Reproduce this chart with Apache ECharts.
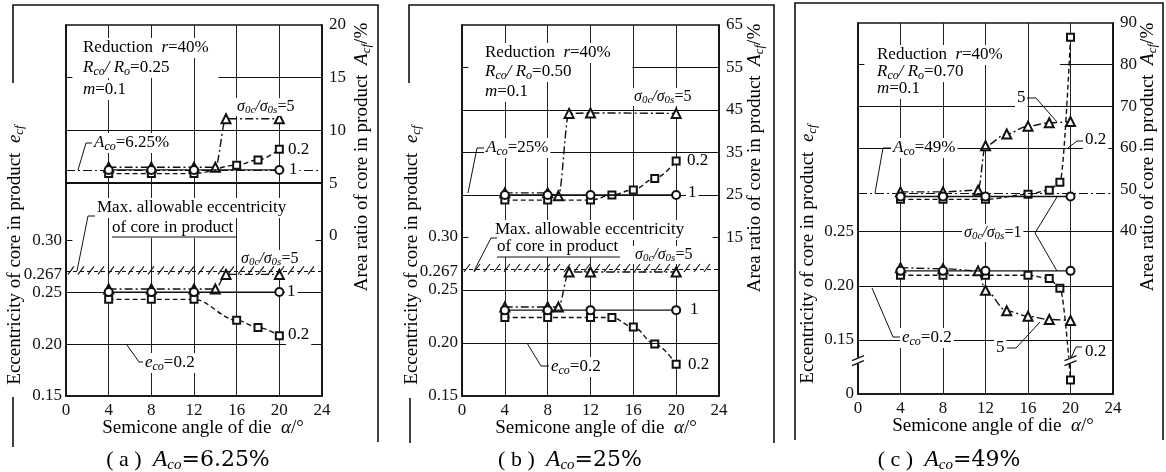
<!DOCTYPE html>
<html>
<head>
<meta charset="utf-8">
<script src="https://cdn.jsdelivr.net/npm/echarts@6/dist/echarts.min.js"></script>
<style>
html,body{margin:0;padding:0;background:#fff}
#chart{width:1166px;height:472px}
</style>
</head>
<body>
<div id="chart"></div>
<script>
// ---- Measured data: [semicone angle α (deg), value] ----
// (a) A_co = 6.25 %, R_co/R_o = 0.25
const areaA_s5  = [[4,6.5],[8,6.5],[12,6.5],[14,6.5],[15,11.1],[20,11.1]];
const areaA_s1  = [[4,6.25],[8,6.25],[12,6.25],[20,6.25]];
const areaA_s02 = [[4,5.9],[8,5.9],[12,5.9],[16,6.7],[18,7.2],[20,8.2]];
const eccA_s5   = [[4,0.253],[8,0.253],[12,0.253],[14,0.253],[15,0.267],[20,0.267]];
const eccA_s1   = [[4,0.25],[8,0.25],[12,0.25],[20,0.25]];
const eccA_s02  = [[4,0.243],[8,0.243],[12,0.243],[16,0.223],[18,0.216],[20,0.208]];
// (b) A_co = 25 %, R_co/R_o = 0.50
const areaB_s5  = [[4,25.5],[8,25.5],[9,24.8],[10,44.2],[12,44.3],[20,44.2]];
const areaB_s1  = [[4,25],[8,25],[12,25],[20,25]];
const areaB_s02 = [[4,23.8],[8,23.8],[12,23.8],[14,25],[16,26.2],[18,28.9],[20,33.0]];
const eccB_s5   = [[4,0.234],[8,0.234],[9,0.234],[10,0.267],[12,0.267],[20,0.267]];
const eccB_s1   = [[4,0.231],[8,0.231],[12,0.231],[20,0.231]];
const eccB_s02  = [[4,0.224],[8,0.224],[12,0.224],[14,0.224],[16,0.215],[18,0.199],[20,0.180]];
// (c) A_co = 49 %, R_co/R_o = 0.70
const areaC_s5  = [[4,49.4],[8,49.4],[11.3,49.8],[12,60.5],[14,63.3],[16,65.2],[18,66],[20,66.3]];
const areaC_s1  = [[4,48.3],[8,48.3],[12,48.3],[20,48.3]];
const areaC_s02 = [[4,47.6],[8,47.6],[12,47.6],[16,48.8],[18,49.8],[19,51.7],[20,86.6]];
const eccC_s5   = [[4,0.217],[8,0.216],[11.3,0.214],[12,0.196],[14,0.177],[16,0.172],[18,0.169],[20,0.168]];
const eccC_s1   = [[4,0.214],[8,0.214],[12,0.214],[20,0.214]];
const eccC_s02  = [[4,0.21],[8,0.21],[12,0.21],[16,0.21],[18,0.207],[19,0.198],[20,0.013]];

// ---- Axis tick values ----
const leftTicksA  = [0.15, 0.20, 0.25, 0.267, 0.30];
const rightTicksA = [0, 5, 10, 15, 20];
const leftTicksB  = [0.15, 0.20, 0.25, 0.267, 0.30];
const rightTicksB = [15, 25, 35, 45, 55, 65];
const leftTicksC  = [0, 0.15, 0.20, 0.25];
const rightTicksC = [40, 50, 60, 70, 80, 90];
// reference levels
const ecoLevel = 0.2;
const maxEcc = 0.267;
const acoA = 6.25, acoB = 25, acoC = 49;

const SERIF = '"Liberation Serif","DejaVu Serif",serif';
const WIDE = '"DejaVu Serif","Liberation Serif",serif';
const INK = '#111';
const chart = echarts.init(document.getElementById('chart'), null, {renderer: 'canvas'});

const rich = {
  n: {fontFamily: SERIF, fontSize: 17, color: INK, lineHeight: 20},
  i: {fontFamily: SERIF, fontSize: 17, fontStyle: 'italic', color: INK, lineHeight: 20},
  s: {fontFamily: SERIF, fontSize: 12, fontStyle: 'italic', color: INK, lineHeight: 12, verticalAlign: 'bottom'},
  xn: {fontFamily: SERIF, fontSize: 19, color: INK, lineHeight: 22},
  xi: {fontFamily: SERIF, fontSize: 19, fontStyle: 'italic', color: INK, lineHeight: 22},
  xs: {fontFamily: SERIF, fontSize: 13, fontStyle: 'italic', color: INK, lineHeight: 13, verticalAlign: 'bottom'},
  gn: {fontFamily: SERIF, fontSize: 16, color: INK, lineHeight: 18},
  gi: {fontFamily: SERIF, fontSize: 16, fontStyle: 'italic', color: INK, lineHeight: 18},
  gs: {fontFamily: SERIF, fontSize: 11, fontStyle: 'italic', color: INK, lineHeight: 11, verticalAlign: 'bottom'},
  cp: {fontFamily: SERIF, fontSize: 22, color: INK, lineHeight: 26},
  cn: {fontFamily: WIDE, fontSize: 22, color: INK, lineHeight: 26},
  ci: {fontFamily: SERIF, fontSize: 24, fontStyle: 'italic', color: INK, lineHeight: 26},
  cs: {fontFamily: SERIF, fontSize: 15, fontStyle: 'italic', color: INK, lineHeight: 15, verticalAlign: 'bottom'}
};

const grids = [
  {left: 66, top: 25, width: 256, height: 371},
  {left: 462, top: 25, width: 257, height: 371},
  {left: 858, top: 23, width: 255, height: 371}
];

function fmtLeft(v) {
  if (v === 0) return '0';
  return (Math.round(v * 1000) % 10 === 0) ? v.toFixed(2) : String(v);
}

const axisLabelStyle = {fontFamily: SERIF, fontSize: 17, color: INK};

const xAxes = grids.map((g, i) => ({
  type: 'value', gridIndex: i, min: 0, max: 24, interval: 4,
  axisLine: {show: true, onZero: false, lineStyle: {color: INK, width: 1.6}},
  axisTick: {show: false},
  axisLabel: Object.assign({margin: 6}, axisLabelStyle),
  splitLine: {show: true, lineStyle: {color: '#222', width: 1}}
}));

function leftAxis(i, min, max, ticks, extra) {
  return Object.assign({
    type: 'value', gridIndex: i, position: 'left', min, max,
    axisLine: {show: true, onZero: false, lineStyle: {color: INK, width: 1.6}},
    axisTick: {show: false},
    splitLine: {show: false},
    axisLabel: Object.assign({customValues: ticks, formatter: fmtLeft, margin: 4}, axisLabelStyle)
  }, extra || {});
}
function rightAxis(i, min, max, ticks) {
  return {
    type: 'value', gridIndex: i, position: 'right', min, max,
    axisLine: {show: true, onZero: false, lineStyle: {color: INK, width: 1.6}},
    axisTick: {show: false},
    splitLine: {show: false},
    axisLabel: Object.assign({customValues: ticks, margin: 7}, axisLabelStyle)
  };
}

const yAxes = [
  leftAxis(0, 0.15, 0.507, leftTicksA),
  rightAxis(0, -15.2, 20, rightTicksA),
  leftAxis(1, 0.15, 0.50, leftTicksB),
  rightAxis(1, -22.3, 65, rightTicksB),
  leftAxis(2, 0, 0.4435, leftTicksC, {
    breaks: [{start: 0.03, end: 0.13, gap: 0}],
    breakArea: {show: false}
  }),
  rightAxis(2, 0.8, 90, rightTicksC)
];

const kinds = {
  s1:  {symbol: 'emptyCircle',   size: 8, type: 'solid', smooth: false, z: 5},
  s5:  {symbol: 'emptyTriangle', size: 9, type: [8, 3, 2, 3], smooth: 0.35, z: 4},
  s02: {symbol: 'emptyRect',     size: 7, type: [5, 3], smooth: 0.35, z: 3}
};
function curve(g, yIdx, data, kind) {
  const k = kinds[kind];
  return {
    type: 'line', xAxisIndex: g, yAxisIndex: yIdx, data,
    symbol: k.symbol, symbolSize: k.size, showAllSymbol: true,
    smooth: k.smooth, smoothMonotone: 'x', z: k.z, silent: true,
    lineStyle: {color: INK, width: 1.4, type: k.type},
    itemStyle: {color: INK, borderWidth: 1.3}
  };
}

const solid = (w) => ({color: INK, width: w || 1, type: 'solid'});
const dashdot = {color: INK, width: 1, type: [9, 3, 2, 3]};
const dashed = {color: INK, width: 1, type: [4, 3]};
const full = (v, ls) => ({yAxis: v, lineStyle: ls});
const seg = (x0, x1, v, ls) => [{coord: [x0, v], lineStyle: ls}, {coord: [x1, v]}];

function refLines(g, yIdx, items) {
  return {
    type: 'line', xAxisIndex: g, yAxisIndex: yIdx, data: [], silent: true, z: 2,
    markLine: {symbol: 'none', silent: true, animation: false, label: {show: false}, data: items}
  };
}

const series = [
  // (a)
  refLines(0, 1, [full(10, solid()), full(5, solid(2.2)), full(acoA, dashdot),
                  seg(0, 0.6, 15, solid()), seg(14.3, 24, 15, solid())]),
  refLines(0, 0, [full(0.25, solid()), full(ecoLevel, solid()), full(maxEcc, dashed),
                  seg(0, 0.6, 0.30, solid()), seg(23.4, 24, 0.30, solid())]),
  curve(0, 1, areaA_s02, 's02'), curve(0, 1, areaA_s5, 's5'), curve(0, 1, areaA_s1, 's1'),
  curve(0, 0, eccA_s02, 's02'), curve(0, 0, eccA_s5, 's5'), curve(0, 0, eccA_s1, 's1'),
  // (b)
  refLines(1, 3, [full(45, solid()), full(35, solid()), full(acoB, solid()),
                  seg(0, 0.6, 55, solid()), seg(15.9, 24, 55, solid())]),
  refLines(1, 2, [full(0.25, solid()), full(ecoLevel, solid()), full(maxEcc, dashed),
                  seg(0, 0.6, 0.30, solid()), seg(23.4, 24, 0.30, solid())]),
  curve(1, 3, areaB_s02, 's02'), curve(1, 3, areaB_s5, 's5'), curve(1, 3, areaB_s1, 's1'),
  curve(1, 2, eccB_s02, 's02'), curve(1, 2, eccB_s5, 's5'), curve(1, 2, eccB_s1, 's1'),
  // (c)
  refLines(2, 5, [full(70, solid()), full(60, solid()), full(40, solid()), full(acoC, dashdot),
                  seg(0, 0.6, 80, solid()), seg(19, 24, 80, solid())]),
  refLines(2, 4, [full(ecoLevel, solid()), full(0.15, solid())]),
  curve(2, 5, areaC_s02, 's02'), curve(2, 5, areaC_s5, 's5'), curve(2, 5, areaC_s1, 's1'),
  curve(2, 4, eccC_s02, 's02'), curve(2, 4, eccC_s5, 's5'), curve(2, 4, eccC_s1, 's1')
];

chart.setOption({
  animation: false,
  backgroundColor: '#fff',
  grid: grids.map(g => Object.assign({show: true, borderColor: INK, borderWidth: 1.6, backgroundColor: 'transparent'}, g)),
  xAxis: xAxes,
  yAxis: yAxes,
  series
});

// ---- Annotations, titles and frame ----
const els = [];
function text(x, y, t, o) {
  o = o || {};
  els.push({
    type: 'text', x, y, z: 50, rotation: o.rot || 0,
    style: {
      text: t, rich, align: o.align || 'left', verticalAlign: 'middle',
      backgroundColor: o.bg === false ? null : '#fff', padding: o.pad || [0, 2]
    }
  });
}
function poly(pts, w, dash) {
  els.push({type: 'polyline', z: 55, shape: {points: pts},
            style: {stroke: INK, lineWidth: w || 1, fill: null, lineDash: dash || null}});
}
const sigma = (v) => '{gi|σ}{gs|0c}{gi|/σ}{gs|0s}{gn|=' + v + '}';

// panel (a)
text(81, 48, '{n|Reduction  }{i|r}{n|=40%}');
text(81, 68, '{i|R}{s|co}{i|/ R}{s|o}{n|=0.25}');
text(81, 90, '{i|m}{n|=0.1}');
text(235, 107, sigma(5));
text(92, 143, '{i|A}{s|co}{n|=6.25%}');
poly([[78, 170], [86, 143], [92, 143]]);
text(286, 150, '{n|0.2}', {bg: false});
text(287, 170, '{n|1}');
text(95, 208, '{n|Max. allowable eccentricity}');
text(110, 228, '{n|of core in product}');
poly([[112, 237], [236, 237]]);
poly([[77, 271], [88, 216], [95, 216]]);
text(239, 259, sigma(5));
text(285, 292, '{n|1}');
text(286, 335, '{n|0.2}');
text(143, 363, '{i|e}{s|co}{n|=0.2}');
poly([[127, 345], [139, 362], [143, 362]]);

// panel (b)
text(483, 53, '{n|Reduction  }{i|r}{n|=40%}');
text(483, 72, '{i|R}{s|co}{i|/ R}{s|o}{n|=0.50}');
text(483, 92, '{i|m}{n|=0.1}');
text(632, 97, sigma(5));
text(484, 148, '{i|A}{s|co}{n|=25%}');
poly([[468, 193], [477, 148], [484, 148]]);
text(685, 161, '{n|0.2}', {bg: false});
text(686, 193, '{n|1}');
text(493, 230, '{n|Max. allowable eccentricity}');
text(495, 247, '{n|of core in product}');
poly([[497, 257], [620, 257]]);
poly([[474, 271], [491, 238], [497, 238]]);
text(633, 255, sigma(5));
text(688, 310, '{n|1}');
text(686, 365, '{n|0.2}');
text(549, 367, '{i|e}{s|co}{n|=0.2}');
poly([[527, 343], [541, 366], [549, 366]]);

// panel (c)
text(875, 55, '{n|Reduction  }{i|r}{n|=40%}');
text(875, 72, '{i|R}{s|co}{i|/ R}{s|o}{n|=0.70}');
text(875, 89, '{i|m}{n|=0.1}');
text(1015, 98, '{n|5}');
poly([[1027, 98], [1036, 98], [1057, 122]]);
text(1083, 140, '{n|0.2}');
poly([[1068, 148], [1077, 141], [1083, 141]]);
text(891, 148, '{i|A}{s|co}{n|=49%}');
poly([[875, 193], [883, 148], [891, 148]]);
text(962, 233, sigma(1));
poly([[1057, 197], [1035, 233], [1057, 271]]);
text(900, 338, '{i|e}{s|co}{n|=0.2}');
poly([[872, 288], [893, 337], [900, 337]]);
text(994, 348, '{n|5}');
poly([[1007, 348], [1016, 348], [1040, 322]]);
text(1083, 352, '{n|0.2}');
poly([[1071, 358], [1076, 347], [1082, 347]]);

// axis titles
const leftTitle = '{xn|Eccentricity of core in product  }{xi|e}{xs|cf}';
const rightTitle = '{xn|Area ratio of core in product  }{xi|A}{xs|cf}{xn|/%}';
const xTitle = '{xn|Semicone angle of die  }{xi|α}{xn|/°}';
[[15, 255], [412, 255], [808, 254]].forEach(p => text(p[0], p[1], leftTitle, {rot: Math.PI / 2, align: 'center', bg: false}));
[[362, 157], [755, 158], [1148, 157]].forEach(p => text(p[0], p[1], rightTitle, {rot: Math.PI / 2, align: 'center', bg: false}));
[[203, 428], [596, 428], [993, 426]].forEach(p => text(p[0], p[1], xTitle, {align: 'center'}));
text(188, 460, '{cp|( a )  }{ci|A}{cs|co}{cn|=6.25%}', {align: 'center'});
text(570, 460, '{cp|( b )  }{ci|A}{cs|co}{cn|=25%}', {align: 'center'});
text(949, 460, '{cp|( c )  }{ci|A}{cs|co}{cn|=49%}', {align: 'center'});

// panel frames
poly([[13, 83], [13, 5], [378, 5], [378, 442]], 1.6);
poly([[13, 397], [13, 447]], 1.6);
poly([[409, 83], [409, 5], [774, 5], [774, 443]], 1.6);
poly([[410, 398], [410, 443]], 1.6);
poly([[795, 440], [795, 3], [1163, 3], [1163, 440]], 1.6);

// hatching above the allowable-eccentricity limit
function hatch(g, yIdx, x0, x1) {
  const a = chart.convertToPixel({xAxisIndex: g, yAxisIndex: yIdx}, [x0, maxEcc]);
  const b = chart.convertToPixel({xAxisIndex: g, yAxisIndex: yIdx}, [x1, maxEcc]);
  for (let x = a[0] + 2; x < b[0] - 6; x += 10) poly([[x, a[1]], [x + 6, a[1] - 8]], 1.1);
}
hatch(0, 0, 0, 24);
hatch(1, 2, 0, 24);

// axis-break marks on panel (c)
function breakMark(px, py) {
  els.push({type: 'rect', z: 54, shape: {x: px - 6, y: py - 4, width: 12, height: 6}, style: {fill: '#fff'}});
  poly([[px - 6, py - 1], [px + 6, py - 6]], 1.2);
  poly([[px - 6, py + 4], [px + 6, py - 1]], 1.2);
}
const bl = chart.convertToPixel({xAxisIndex: 2, yAxisIndex: 4}, [0, 0.13]);
const br = chart.convertToPixel({xAxisIndex: 2, yAxisIndex: 4}, [20, 0.13]);
breakMark(bl[0], bl[1]);
breakMark(br[0], br[1]);

chart.setOption({graphic: {elements: els}});
</script>
</body>
</html>
